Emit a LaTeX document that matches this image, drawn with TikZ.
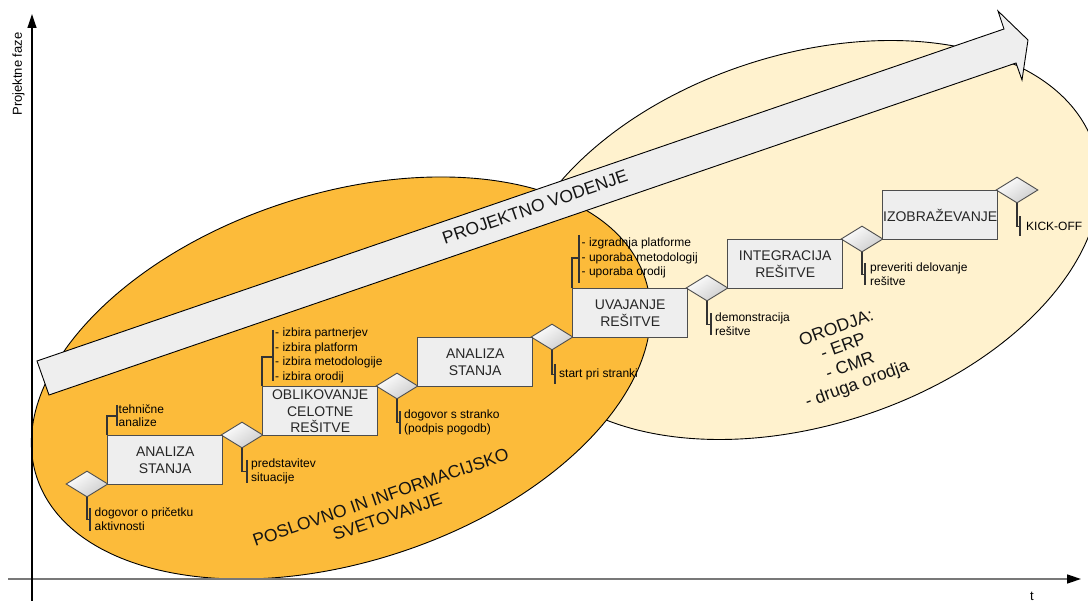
\documentclass[tikz,border=0pt]{standalone}
\usepackage{fontspec}
\setmainfont{Liberation Sans}
\usetikzlibrary{shapes.geometric,arrows.meta,calc}
\definecolor{orng}{RGB}{252,187,58}
\definecolor{ylw}{RGB}{255,242,206}
\definecolor{boxfill}{RGB}{238,238,238}
\definecolor{boxline}{RGB}{77,77,77}
\definecolor{annline}{RGB}{51,51,51}
\definecolor{axisgray}{RGB}{120,120,120}
\begin{document}
\begin{tikzpicture}[x=1pt,y=-1pt,
  phase/.style={draw=boxline, line width=1.4pt, fill=boxfill, minimum width=115pt, minimum height=49pt, inner sep=0pt, align=center, font=\fontsize{14pt}{16.5pt}\selectfont, text=black!85, anchor=north west},
  gate/.style={diamond, draw=boxline, line width=0.9pt, minimum width=42pt, minimum height=26pt, inner sep=0pt, top color=white, bottom color=black!20, shading angle=35},
  ann/.style={draw=annline, line width=1.2pt},
  anntext/.style={anchor=west, inner sep=0pt, align=left, font=\fontsize{12pt}{14pt}\selectfont},
  biglabel/.style={font=\fontsize{17.5pt}{20.5pt}\selectfont, align=center, inner sep=0pt, text=black!92},
  blob/.style={draw=black, line width=0.9pt},
]
\useasboundingbox (0,0) rectangle (1088,601);

% ellipses
\draw[blob, fill=ylw, rotate around={18:(805,240)}] (805,240) ellipse [x radius=304pt, y radius=185pt];
\draw[blob, fill=orng, rotate around={18:(341,378)}] (341,378) ellipse [x radius=320pt, y radius=184pt];

% big arrow
\draw[line width=0.9pt, fill=boxfill] (37,361) -- (1004,29) -- (998,11) -- (1028,40) -- (1022,80) -- (1016,63) -- (49,395) -- cycle;
\node[biglabel, rotate=18.9] (pv) at (535,207) {PROJEKTNO VODENJE};

% diamonds
\foreach \j in {0,...,6}{
  \node[gate] (d\j) at ({87+155*\j},{484-49*\j}) {};
}
% phase boxes
\node[phase] (b0) at (107,435) {ANALIZA\\STANJA};
\node[phase] (b1) at (262,386) {OBLIKOVANJE\\CELOTNE\\REŠITVE};
\node[phase] (b2) at (417,337) {ANALIZA\\STANJA};
\node[phase] (b3) at (572,288) {UVAJANJE\\REŠITVE};
\node[phase] (b4) at (727,239) {INTEGRACIJA\\REŠITVE};
\node[phase] (b5) at (882,190) {IZOBRAŽEVANJE};

% annotations below diamonds
\draw[ann] (d0.south) -- ++(0,22) -- ++(3,0) coordinate (a0);
\draw[ann] ($(a0)+(0,-11.5)$) -- ($(a0)+(0,11.5)$);
\node[anntext] (t0) at ($(a0)+(4.5,0)$) {dogovor o pričetku\\aktivnosti};

\draw[ann] (d1.south) -- ++(0,23) -- ++(5,0) coordinate (a1);
\draw[ann] ($(a1)+(0,-11.5)$) -- ($(a1)+(0,11.5)$);
\node[anntext] (t1) at ($(a1)+(4,0)$) {predstavitev\\situacije};

\draw[ann] (d2.south) -- ++(0,23) -- ++(3,0) coordinate (a2);
\draw[ann] ($(a2)+(0,-11.5)$) -- ($(a2)+(0,11.5)$);
\node[anntext] (t2) at ($(a2)+(4,0)$) {dogovor s stranko\\(podpis pogodb)};

\draw[ann] (d3.south) -- ++(0,24) -- ++(3,0) coordinate (a3);
\draw[ann] ($(a3)+(0,-10)$) -- ($(a3)+(0,10)$);
\node[anntext] (t3) at ($(a3)+(4,0)$) {start pri stranki};

\draw[ann] (d4.south) -- ++(0,23) -- ++(4,0) coordinate (a4);
\draw[ann] ($(a4)+(0,-11)$) -- ($(a4)+(0,11)$);
\node[anntext] (t4) at ($(a4)+(4,0)$) {demonstracija\\rešitve};

\draw[ann] (d5.south) -- ++(0,22) -- ++(3,0) coordinate (a5);
\draw[ann] ($(a5)+(0,-11)$) -- ($(a5)+(0,11)$);
\node[anntext] (t5) at ($(a5)+(5,0)$) {preveriti delovanje\\rešitve};

\draw[ann] (d6.south) -- ++(0,23) -- ++(3,0) coordinate (a6);
\draw[ann] ($(a6)+(0,-10)$) -- ($(a6)+(0,10)$);
\node[anntext] (t6) at ($(a6)+(6,0)$) {KICK-OFF};

% annotations above boxes
\draw[ann] (b0.north west) -- ++(0,-19) -- ++(10,0) coordinate (u0);
\draw[ann] ($(u0)+(0,-11)$) -- ($(u0)+(0,10)$);
\node[anntext, font=\fontsize{12pt}{13pt}\selectfont] (s0) at ($(u0)+(1.5,-0.5)$) {tehnične\\analize};

\draw[ann] (b1.north west) -- ++(0,-29) -- ++(11,0) coordinate (u1);
\draw[ann] ($(u1)+(0,-27)$) -- ($(u1)+(0,24)$);
\node[anntext, font=\fontsize{12pt}{14.5pt}\selectfont] (s1) at ($(u1)+(2,-1.5)$) {- izbira partnerjev\\- izbira platform\\- izbira metodologije\\- izbira orodij};

\draw[ann] (b3.north west) -- ++(0,-30) -- ++(7,0) coordinate (u3);
\draw[ann] ($(u3)+(0,-23)$) -- ($(u3)+(0,25)$);
\node[anntext, font=\fontsize{12pt}{14.5pt}\selectfont] (s3) at ($(u3)+(2.5,0)$) {- izgradnja platforme\\- uporaba metodologij\\- uporaba orodij};

% big labels
\node[biglabel, rotate=19] (poslovno) at (384,507) {POSLOVNO IN INFORMACIJSKO\\SVETOVANJE};
\node[biglabel, rotate=20, font=\fontsize{17.5pt}{20pt}\selectfont] (orodja) at (847,357) {ORODJA:\\- ERP\\- CMR\\- druga orodja};

% axes
\coordinate (hx0) at (8,579);
\coordinate (hx1) at (1081,579);
\coordinate (vy0) at (32,601);
\coordinate (vy1) at (32,14);
\draw[axisgray, line width=1.5pt, -{Triangle[length=14pt,width=9pt,color=black]}] (hx0) -- (hx1);
\draw[black, line width=1.2pt, -{Triangle[length=14pt,width=9pt]}] (vy0) -- (vy1);
\node[rotate=90, inner sep=0pt, font=\fontsize{13pt}{15pt}\selectfont] (ylab) at (18.5,74) {Projektne faze};
\node[inner sep=0pt, font=\fontsize{13pt}{15pt}\selectfont] (tlab) at (1032,596) {t};
\end{tikzpicture}
\end{document}
